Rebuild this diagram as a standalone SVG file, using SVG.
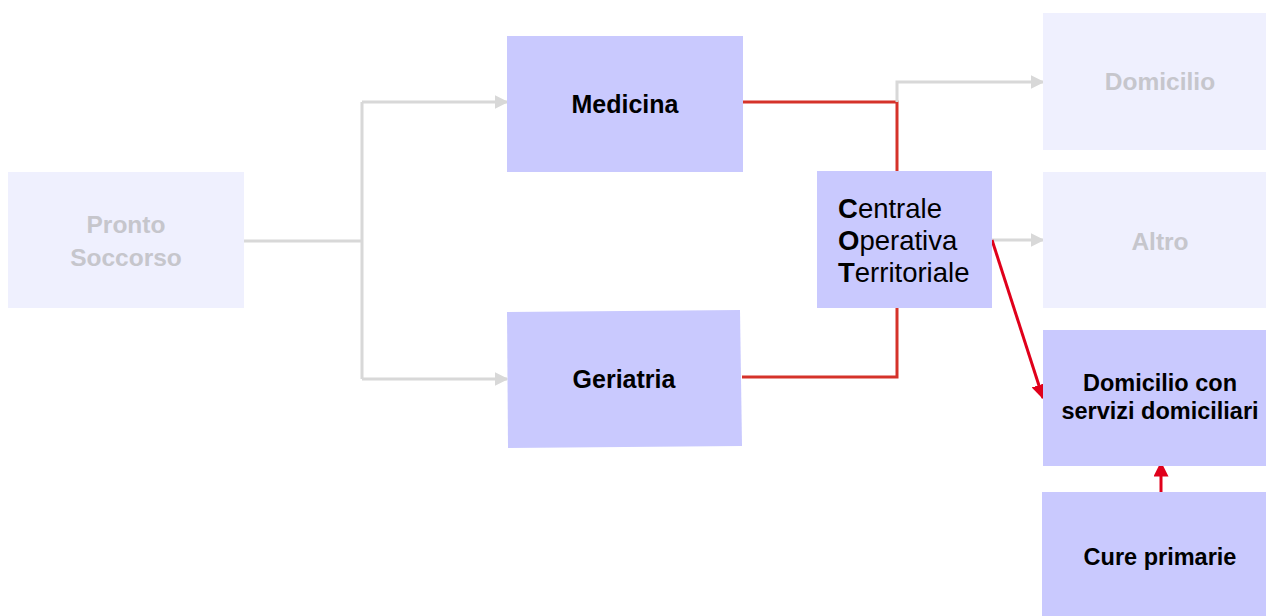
<svg xmlns="http://www.w3.org/2000/svg" width="1266" height="616" viewBox="0 0 1266 616">
  <style>
    .muted { fill: #eff0fe; }
    .main { fill: #c9c9fe; }
    .lbl { font-family: "Liberation Sans", Arial, sans-serif; font-weight: bold; text-anchor: middle; }
    .lbl-muted { fill: #c6c6cc; font-size: 24.5px; }
    .lbl-main { fill: #000; }
    .cot { font-family: "Liberation Sans", Arial, sans-serif; font-size: 27.5px; fill: #000; }
    .grey { fill: none; stroke: #d8d8d8; stroke-width: 3; }
    .path-red { fill: none; stroke: #d5322a; stroke-width: 3; }
    .arrow-red { fill: none; stroke: #e0001b; stroke-width: 3; }
  </style>
  <defs>
    <marker id="ah-grey" viewBox="0 0 10 10" refX="9" refY="5" markerWidth="4.5" markerHeight="4.5" orient="auto" markerUnits="strokeWidth">
      <path d="M0,0 L10,5 L0,10 z" fill="#d8d8d8"/>
    </marker>
    <marker id="ah-red" viewBox="0 0 10 10" refX="9" refY="5" markerWidth="5" markerHeight="5" orient="auto" markerUnits="strokeWidth">
      <path d="M0,0 L10,5 L0,10 z" fill="#e0001b"/>
    </marker>
  </defs>

  <g id="connectors">
    <!-- Pronto Soccorso branches to the two wards -->
    <polyline class="grey" points="244,241 362,241"/>
    <polyline class="grey" points="362,102 362,379"/>
    <polyline class="grey" points="362,102 507,102" marker-end="url(#ah-grey)"/>
    <polyline class="grey" points="362,379 507,379" marker-end="url(#ah-grey)"/>
    <!-- wards to COT -->
    <polyline class="path-red" points="743,102 897,102 897,171"/>
    <polyline class="path-red" points="742,377 897,377 897,308"/>
    <!-- COT outcomes -->
    <polyline class="grey" points="897,102 897,82 1043,82" marker-end="url(#ah-grey)"/>
    <polyline class="grey" points="992,240 1043,240" marker-end="url(#ah-grey)"/>
    <line class="arrow-red" x1="992" y1="240" x2="1043" y2="398" marker-end="url(#ah-red)"/>
    <line class="arrow-red" x1="1161" y1="492" x2="1161" y2="463" marker-end="url(#ah-red)"/>
  </g>

  <g id="pronto-soccorso">
    <rect class="muted" x="8" y="172" width="236" height="136"/>
    <text class="lbl lbl-muted" x="126" y="233">Pronto</text>
    <text class="lbl lbl-muted" x="126" y="266">Soccorso</text>
  </g>

  <g id="medicina">
    <rect class="main" x="507" y="36" width="236" height="136"/>
    <text class="lbl lbl-main" x="625" y="113" font-size="25">Medicina</text>
  </g>

  <g id="geriatria">
    <polygon class="main" points="507,312 740,310 742,446 508,448"/>
    <text class="lbl lbl-main" x="624" y="388" font-size="25">Geriatria</text>
  </g>

  <g id="cot">
    <rect class="main" x="817" y="171" width="175" height="137"/>
    <text class="cot" x="838" y="218"><tspan font-weight="bold">C</tspan>entrale</text>
    <text class="cot" x="838" y="250"><tspan font-weight="bold">O</tspan>perativa</text>
    <text class="cot" x="838" y="282"><tspan font-weight="bold">T</tspan>erritoriale</text>
  </g>

  <g id="domicilio">
    <rect class="muted" x="1043" y="13" width="223" height="137"/>
    <text class="lbl lbl-muted" x="1160" y="90">Domicilio</text>
  </g>

  <g id="altro">
    <rect class="muted" x="1043" y="172" width="223" height="136"/>
    <text class="lbl lbl-muted" x="1160" y="250">Altro</text>
  </g>

  <g id="domicilio-servizi">
    <rect class="main" x="1043" y="330" width="223" height="136"/>
    <text class="lbl lbl-main" x="1160" y="391" font-size="23.5">Domicilio con</text>
    <text class="lbl lbl-main" x="1160" y="419" font-size="23.5">servizi domiciliari</text>
  </g>

  <g id="cure-primarie">
    <rect class="main" x="1042" y="492" width="224" height="124"/>
    <text class="lbl lbl-main" x="1160" y="565" font-size="23.5">Cure primarie</text>
  </g>
</svg>
